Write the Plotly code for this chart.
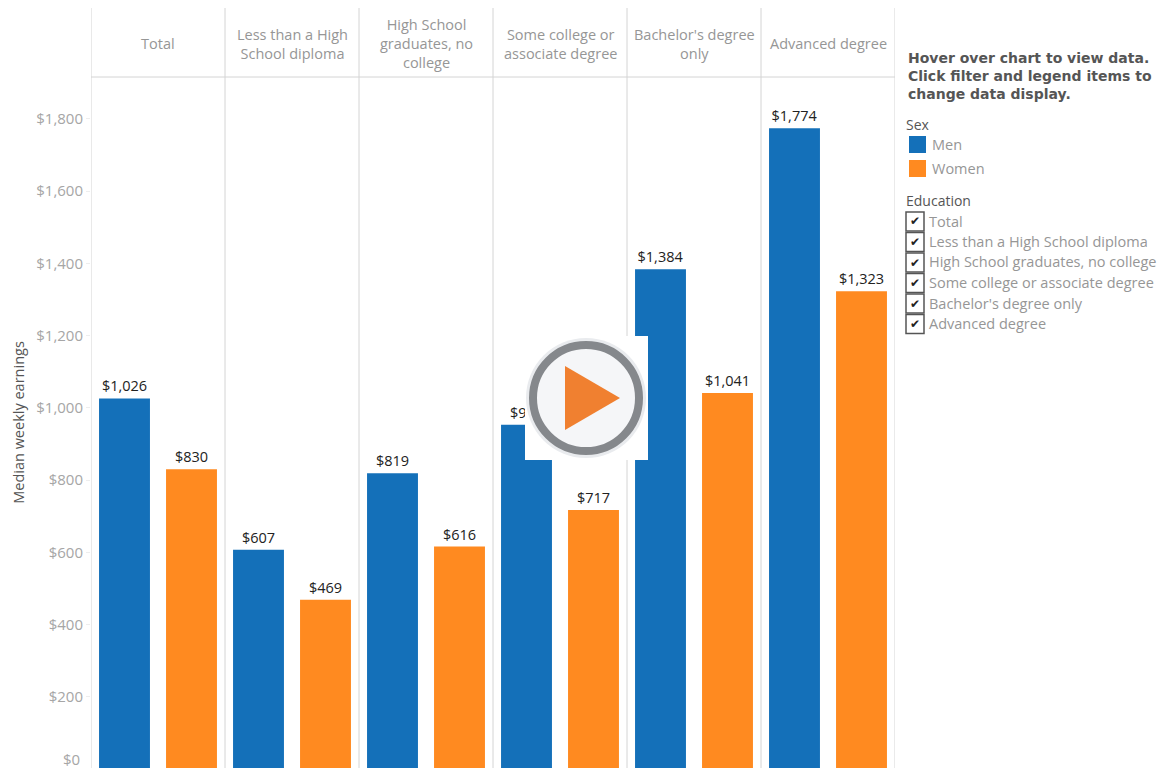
import plotly.graph_objects as go

W, H = 1161, 768
education = ["Total", "Less than a High School diploma", "High School graduates, no college",
             "Some college or associate degree", "Bachelor's degree only", "Advanced degree"]
header_labels = ["Total", "Less than a High<br>School diploma", "High School<br>graduates, no<br>college",
                 "Some college or<br>associate degree", "Bachelor's degree<br>only", "Advanced degree"]
men = [1026, 607, 819, 953, 1384, 1774]
women = [830, 469, 616, 717, 1041, 1323]
y_ticks = [200, 400, 600, 800, 1000, 1200, 1400, 1600, 1800]
y_tick_labels = ["$200", "$400", "$600", "$800", "$1,000", "$1,200", "$1,400", "$1,600", "$1,800"]
BLUE, ORANGE = "#1470b9", "#ff8a20"
FONT = "Open Sans"
GREY = "#969696"


def px(x):
    return x / W


def py(y):
    return 1 - y / H


fig = go.Figure()
for name, vals, col in [("Men", men, BLUE), ("Women", women, ORANGE)]:
    fig.add_bar(name=name, x=education, y=vals, marker_color=col, marker_line_width=0,
                text=[f"${v:,}" for v in vals], textposition="outside", cliponaxis=False,
                textfont=dict(family=FONT, size=14.5, color="#222222"))

shapes = []
annos = []


def rect(x0, y0, x1, y1, fill, line=None, lw=0, layer="above"):
    shapes.append(dict(type="rect", xref="paper", yref="paper", x0=px(x0), x1=px(x1), y0=py(y0), y1=py(y1),
                       fillcolor=fill, line=dict(color=line or fill, width=lw), layer=layer))


def text(x, y, s, size=14, color=GREY, family=FONT, anchor="left", angle=0):
    annos.append(dict(xref="paper", yref="paper", x=px(x), y=py(y), text=s, showarrow=False, xanchor=anchor,
                      yanchor="middle", align=anchor, textangle=angle,
                      font=dict(family=family, size=size, color=color)))


# panel rules
for i in range(7):
    shapes.append(dict(type="line", xref="x", yref="paper", x0=i - 0.5, x1=i - 0.5, y0=0, y1=py(8),
                       line=dict(color="#d4d4d4", width=1), layer="below"))
shapes.append(dict(type="line", xref="paper", yref="paper", x0=px(91), x1=px(895), y0=py(77), y1=py(77),
                   line=dict(color="#d4d4d4", width=1), layer="below"))

# panel headers
for cat, lab in zip(education, header_labels):
    annos.append(dict(xref="x", yref="paper", x=cat, y=py(44), text=lab, showarrow=False, xanchor="center",
                      yanchor="middle", font=dict(family=FONT, size=14.5, color=GREY)))

text(82, 759, "$0", size=15, anchor="right", color="#a6a6a6")

# side notes
text(906, 76, "<b>Hover over chart to view data.</b><br><b>Click filter and legend items to</b><br><b>change data display.</b>",
     size=14, color="#555555", family="DejaVu Sans")
text(904, 124, "Sex", size=14, color="#555555")
rect(909, 136, 926, 153, BLUE)
rect(909, 160, 926, 177, ORANGE)
text(930, 144, "Men", size=14.5)
text(930, 168, "Women", size=14.5)
text(904, 200, "Education", size=14, color="#555555")
ys = [221.5, 242, 262.5, 283, 303.5, 324]
for yy, cat in zip(ys, education):
    rect(906, yy - 9.5, 924, yy + 9.5, "white", "#555555", 1.5)
    text(915, yy, "✔", size=12, color="#222222", family="DejaVu Sans", anchor="center")
    text(927, yy - 0.5, cat, size=14.5)

# play button overlay
rect(525, 336, 648, 460, "white")
cx, cy = 586, 398
for r, fill, line, lw in [(60, "#e9ebee", "#e9ebee", 0), (53, "#f5f6f8", "#85888c", 8)]:
    shapes.append(dict(type="circle", xref="paper", yref="paper", x0=px(cx - r), x1=px(cx + r),
                       y0=py(cy + r), y1=py(cy - r), fillcolor=fill, line=dict(color=line, width=lw)))
shapes.append(dict(type="path", xref="paper", yref="paper",
                   path=f"M {px(565)} {py(366)} L {px(620)} {py(398)} L {px(565)} {py(430)} Z",
                   fillcolor="#f08030", line=dict(width=0)))

fig.update_layout(
    width=W, height=H, margin=dict(l=0, r=0, t=0, b=0), paper_bgcolor="white", plot_bgcolor="white",
    barmode="group", bargap=0, bargroupgap=0.24, showlegend=False, shapes=shapes, annotations=annos,
    font=dict(family=FONT),
    xaxis=dict(domain=[px(91), px(895)], range=[-0.5, 5.5], showticklabels=False, ticks="", showgrid=False,
               zeroline=False, categoryorder="array", categoryarray=education),
    yaxis=dict(domain=[0, py(77)], range=[3, 1916], tickmode="array", tickvals=y_ticks, ticktext=y_tick_labels,
               showgrid=False, zeroline=False, ticks="outside", ticklen=4, tickcolor="#eeeeee",
               tickfont=dict(family=FONT, size=15, color="#a6a6a6"),
               title=dict(text="Median weekly earnings", standoff=8, font=dict(family=FONT, size=14.5, color="#555555"))),
)
fig.write_html("out.html", config={"displayModeBar": False},
               post_script="document.body.style.margin='0';document.body.style.overflow='hidden';")
